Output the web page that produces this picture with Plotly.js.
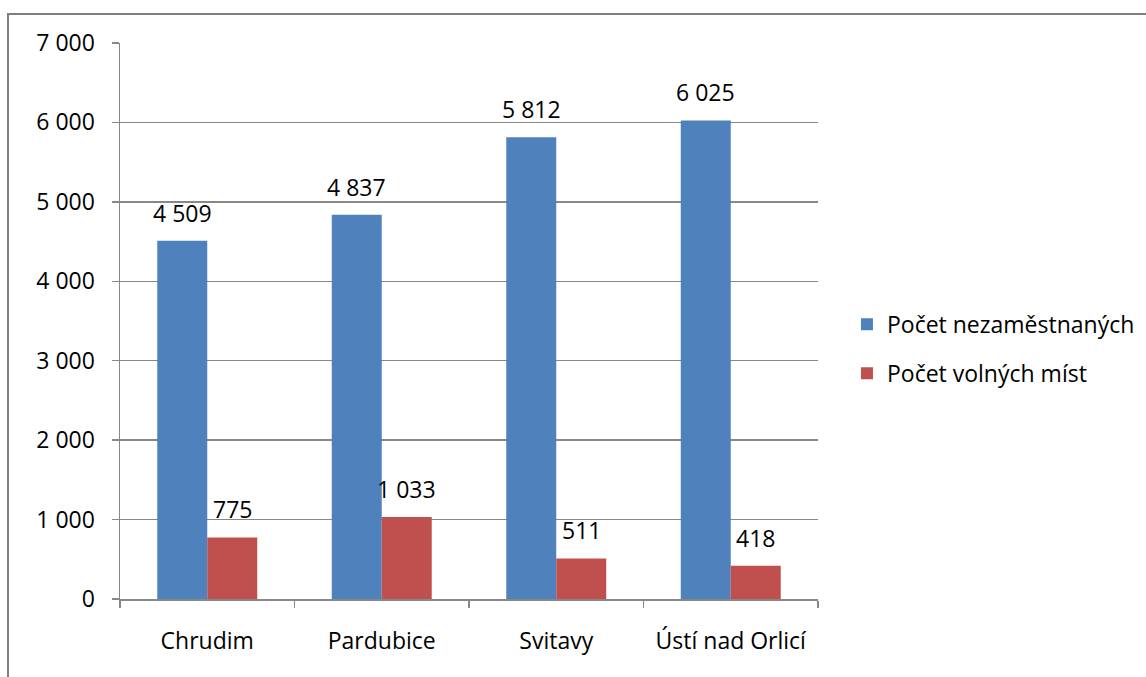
<!DOCTYPE html>
<html>
<head>
<meta charset="utf-8">
<script src="https://cdn.plot.ly/plotly-3.0.1.min.js"></script>
<style>
html,body{margin:0;padding:0;background:#fff;overflow:hidden;}
#frame{position:absolute;left:7px;top:13px;width:1200px;height:720px;border:2px solid #7f7f7f;box-sizing:border-box;}
#chart{position:absolute;left:0;top:0;width:1146px;height:677px;}
</style>
</head>
<body>
<div id="frame"></div>
<div id="chart"></div>
<script>
const categories = ["Chrudim", "Pardubice", "Svitavy", "Ústí nad Orlicí"];
const unemployed = [4509, 4837, 5812, 6025];
const vacancies = [775, 1033, 511, 418];
const seriesNames = ["Počet nezaměstnaných", "Počet volných míst"];
const yTicks = [0, 1000, 2000, 3000, 4000, 5000, 6000, 7000];

const W = 1146, H = 677;
const margin = {l: 120, r: 328, t: 43, b: 78, autoexpand: false};
const bargap = 0.427;
const plotW = W - margin.l - margin.r;
const barW = plotW / categories.length * (1 - bargap) / 2;
const font = "Open Sans, Noto Sans, sans-serif";
const fs = 23;

function fmt(v){ return String(v).replace(/\B(?=(\d{3})+(?!\d))/g, " "); }

const traces = [
  {type: "bar", name: seriesNames[0], x: categories, y: unemployed,
   marker: {color: "#4F81BD"}, legendgroup: "a", hoverinfo: "y"},
  {type: "bar", name: seriesNames[1], x: categories, y: vacancies,
   marker: {color: "#C0504D"}, legendgroup: "b", hoverinfo: "y"}
];

const annotations = [];
[unemployed, vacancies].forEach((arr, si) => {
  arr.forEach((v, i) => {
    annotations.push({x: categories[i], y: v, xref: "x", yref: "y",
      text: fmt(v), showarrow: false, yanchor: "bottom",
      xshift: (si === 0 ? -1 : 1) * barW / 2, yshift: 10,
      font: {family: font, size: fs, color: "#000"}});
  });
});

const layout = {
  width: W, height: H, margin: margin,
  paper_bgcolor: "rgba(0,0,0,0)", plot_bgcolor: "rgba(0,0,0,0)",
  separators: ", ",
  barmode: "group", bargap: bargap, bargroupgap: 0,
  font: {family: font, size: fs, color: "#000"},
  xaxis: {type: "category", showline: true, linecolor: "#888", linewidth: 1.5,
    ticks: "outside", tickson: "boundaries", ticklen: 7, tickcolor: "#888", tickwidth: 1.5,
    ticklabelstandoff: 21, showgrid: false, zeroline: false, automargin: false,
    tickfont: {family: font, size: fs, color: "#000"}},
  yaxis: {range: [0, 7000], tickvals: yTicks, ticktext: yTicks.map(fmt),
    showline: true, linecolor: "#888", linewidth: 1.5,
    ticks: "outside", ticklen: 7, tickcolor: "#888", tickwidth: 1.5,
    ticklabelstandoff: 12, automargin: false,
    showgrid: true, gridcolor: "#888", gridwidth: 1.5, zeroline: false,
    tickfont: {family: font, size: fs, color: "#000"}},
  showlegend: true,
  legend: {x: 1.0415, xanchor: "left", y: 0.45, yanchor: "middle",
    traceorder: "grouped", tracegroupgap: 16,
    font: {family: font, size: fs, color: "#000"}, itemwidth: 30},
  annotations: annotations
};

Plotly.newPlot("chart", traces, layout, {displayModeBar: false, staticPlot: true});
</script>
</body>
</html>
